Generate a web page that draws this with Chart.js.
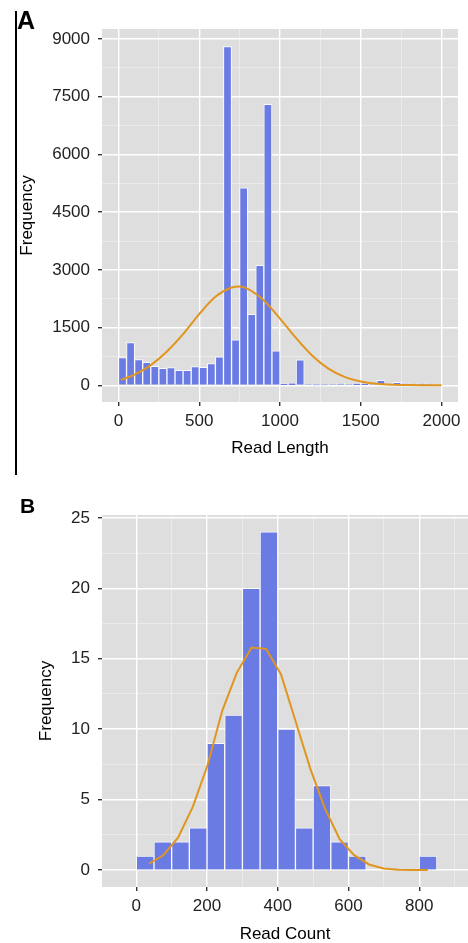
<!DOCTYPE html>
<html>
<head>
<meta charset="utf-8">
<script src="https://cdn.jsdelivr.net/npm/chart.js@4.4.1/dist/chart.umd.min.js"></script>
<style>
  body { margin: 0; background: #fff; width: 468px; height: 943px; position: relative; overflow: hidden; font-family: "Liberation Sans", Arial, sans-serif; }
  canvas { position: absolute; left: 0; }
  #chartA { top: 0; }
  #chartB { top: 470px; }
  .tag { position: absolute; font-weight: bold; line-height: 1; color: #000; }
  #rule { position: absolute; left: 15px; top: 11px; width: 1.5px; height: 464px; background: #000; }
</style>
</head>
<body>
<canvas id="chartA" width="468" height="470"></canvas>
<canvas id="chartB" width="468" height="473"></canvas>
<div id="rule"></div>
<div class="tag" style="left:17px;top:8px;font-size:25px">A</div>
<div class="tag" style="left:20px;top:495px;font-size:21px">B</div>
<script>
// --- panel A: read length ---
const lengthBins = [25, 75, 125, 175, 225, 275, 325, 375, 425, 475, 525, 575, 625, 675, 725, 775, 825, 875, 925, 975,
  1025, 1075, 1125, 1175, 1225, 1275, 1325, 1375, 1425, 1475, 1525, 1575, 1625, 1675, 1725, 1775, 1825, 1875, 1925, 1975];
const lengthFreq = [720, 1110, 667, 598, 494, 442, 460, 390, 390, 485, 468, 563, 737, 8800, 1180, 5135, 1845, 3120, 7300, 895,
  35, 60, 660, 25, 5, 5, 10, 50, 10, 45, 45, 15, 130, 40, 75, 50, 5, 50, 5, 0];
const lengthCurveX = [15, 100, 200, 300, 400, 500, 600, 700, 750, 800, 900, 1000, 1100, 1200, 1300, 1400, 1500, 1600, 1700, 1800, 1900, 2000];
const lengthCurveY = [140, 275, 525, 880, 1330, 1850, 2300, 2540, 2565, 2505, 2205, 1735, 1225, 770, 435, 220, 100, 40, 15, 5, 2, 0];
const lengthMajor = [0, 500, 1000, 1500, 2000];
const lengthMinor = [250, 750, 1250, 1750];
const freqMajorA = [0, 1500, 3000, 4500, 6000, 7500, 9000];
const freqMinorA = [750, 2250, 3750, 5250, 6750, 8250];

// --- panel B: read count ---
const countBins = [25, 75, 125, 175, 225, 275, 325, 375, 425, 475, 525, 575, 625, 675, 725, 775, 825];
const countFreq = [1, 2, 2, 3, 9, 11, 20, 24, 10, 3, 6, 2, 1, 0, 0, 0, 1];
const countCurveX = [36, 77, 118, 160, 201, 243, 284, 326, 367, 409, 450, 492, 533, 575, 616, 658, 699, 741, 782, 824];
const countCurveY = [0.45, 1.07, 2.3, 4.5, 7.4, 11.3, 14.0, 15.8, 15.7, 13.9, 10.6, 7.2, 4.4, 2.2, 1.06, 0.4, 0.12, 0.03, 0.01, 0];
const countMajor = [0, 200, 400, 600, 800];
const countMinor = [100, 300, 500, 700, 900];
const freqMajorB = [0, 5, 10, 15, 20, 25];
const freqMinorB = [2.5, 7.5, 12.5, 17.5, 22.5];

const BAR = '#6A7BE4';
const CURVE = '#E0961E';
const PANEL = '#DEDEDE';

Chart.defaults.font.family = '"Liberation Sans", Arial, Helvetica, sans-serif';
Chart.defaults.font.size = 17;

// grey panel behind the grid
const panelBg = {
  id: 'panelBg',
  beforeDraw(chart) {
    const { ctx, chartArea: a } = chart;
    ctx.save();
    ctx.fillStyle = PANEL;
    ctx.fillRect(a.left, a.top, a.right - a.left, a.bottom - a.top);
    ctx.restore();
  }
};

function axis(min, max, major, minor, title, titlePad, size, isX, titleLH) {
  const isMajor = c => c.tick && major.includes(c.tick.value);
  return {
    type: 'linear', min: min, max: max, offset: false,
    afterBuildTicks: s => { s.ticks = major.concat(minor).sort((a, b) => a - b).map(v => ({ value: v })); },
    afterFit: s => { if (isX) s.height = size; else s.width = size; },
    ticks: {
      autoSkip: false, maxRotation: 0, padding: isX ? 5 : 8, color: '#222',
      callback: v => major.includes(v) ? String(v) : ''
    },
    grid: {
      offset: false,
      color: c => isMajor(c) ? '#ffffff' : 'rgba(255,255,255,0.55)',
      lineWidth: c => isMajor(c) ? 1.4 : 0.7,
      tickColor: c => isMajor(c) ? '#333' : 'rgba(0,0,0,0)',
      tickLength: 4
    },
    border: { display: false },
    title: { display: true, text: title, color: '#000', font: { size: 17, lineHeight: titleLH || 1.2 }, padding: titlePad }
  };
}

function histogram(id, bins, freq, cx, cy, smooth, scales, padding) {
  return new Chart(document.getElementById(id), {
    type: 'bar',
    data: {
      datasets: [
        {
          type: 'line',
          data: cx.map((x, i) => ({ x: x, y: cy[i] })),
          borderColor: CURVE, borderWidth: 2, pointRadius: 0,
          cubicInterpolationMode: smooth ? 'monotone' : 'default', tension: 0,
          order: 0
        },
        {
          data: bins.map((x, i) => ({ x: x, y: freq[i] })),
          backgroundColor: BAR, borderColor: 'rgba(255,255,255,0.85)', borderWidth: 1,
          borderSkipped: 'start', categoryPercentage: 1, barPercentage: 1,
          order: 1
        }
      ]
    },
    options: {
      responsive: false, animation: false, devicePixelRatio: 1,
      layout: { padding: padding },
      plugins: { legend: { display: false }, tooltip: { enabled: false } },
      scales: scales
    },
    plugins: [panelBg]
  });
}

histogram('chartA', lengthBins, lengthFreq, lengthCurveX, lengthCurveY, true, {
  x: axis(-102, 2102, lengthMajor, lengthMinor, 'Read Length', { top: 0, bottom: 11.8 }, 68, true),
  y: axis(-434, 9260, freqMajorA, freqMinorA, 'Frequency', { top: 17, bottom: 0 }, 102, false)
}, { top: 29, right: 10, bottom: 0, left: 0 });

histogram('chartB', countBins, countFreq, countCurveX, countCurveY, false, {
  x: axis(-97, 938, countMajor, countMinor, 'Read Count', { top: 0, bottom: 0 }, 56, true, 1.0),
  y: axis(-1.2, 25.2, freqMajorB, freqMinorB, 'Frequency', { top: 36, bottom: 0 }, 102, false)
}, { top: 45, right: 0, bottom: 0, left: 0 });
</script>
</body>
</html>
